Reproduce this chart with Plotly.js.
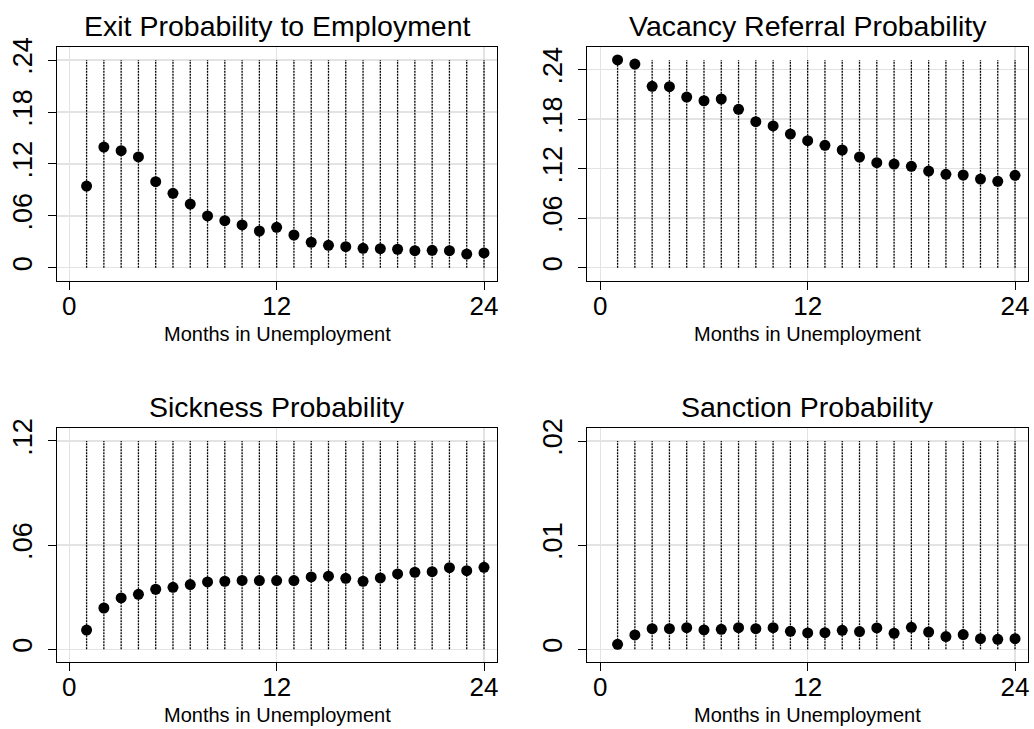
<!DOCTYPE html>
<html>
<head>
<meta charset="utf-8">
<script src="https://cdn.plot.ly/plotly-3.0.1.min.js"></script>
<style>html,body{margin:0;padding:0;background:#fff;}#chart{width:1034px;height:729px;}</style>
</head>
<body>
<div id="chart"></div>
<script>
// ---- data ----
const months = [1,2,3,4,5,6,7,8,9,10,11,12,13,14,15,16,17,18,19,20,21,22,23,24];
const exitEmployment = [0.0944,0.1395,0.1353,0.1280,0.0994,0.0860,0.0736,0.0598,0.0543,0.0494,0.0424,0.0467,0.0378,0.0294,0.0259,0.0243,0.0224,0.0220,0.0213,0.0197,0.0201,0.0197,0.0158,0.0170];
const vacancyReferral = [0.2518,0.2469,0.2199,0.2194,0.2069,0.2024,0.2045,0.1920,0.1770,0.1718,0.1620,0.1540,0.1484,0.1427,0.1342,0.1273,0.1257,0.1229,0.1172,0.1132,0.1124,0.1075,0.1047,0.1120];
const sickness = [0.0111,0.0238,0.0296,0.0317,0.0346,0.0357,0.0373,0.0388,0.0392,0.0397,0.0396,0.0396,0.0396,0.0417,0.0421,0.0409,0.0392,0.0411,0.0434,0.0444,0.0447,0.0470,0.0453,0.0472];
const sanction = [0.00048,0.00138,0.00198,0.00198,0.00208,0.00186,0.00192,0.00208,0.00198,0.00208,0.00173,0.00157,0.00160,0.00182,0.00170,0.00205,0.00154,0.00211,0.00166,0.00122,0.00141,0.00102,0.00096,0.00102];

const panelTitles = ["Exit Probability to Employment","Vacancy Referral Probability","Sickness Probability","Sanction Probability"];
const xTitle = "Months in Unemployment";
const xTickVals = [0,12,24];
const xTickText = ["0","12","24"];
const yTickVals1 = [0,0.06,0.12,0.18,0.24];
const yTickText1 = ["0",".06",".12",".18",".24"];
const yTickVals3 = [0,0.06,0.12];
const yTickText3 = ["0",".06",".12"];
const yTickVals4 = [0,0.01,0.02];
const yTickText4 = ["0",".01",".02"];

// ---- layout helpers ----
const W = 1034, H = 729;
const px = v => v / W;
const py = v => 1 - v / H;

const series = [exitEmployment, vacancyReferral, sickness, sanction];
const yTicks = [[yTickVals1,yTickText1],[yTickVals1,yTickText1],[yTickVals3,yTickText3],[yTickVals4,yTickText4]];
const xDomains = [[56.7,497.3],[587,1028],[56.7,497.3],[587,1028]];
const yDomains = [[46.7,281],[46.7,281],[428.3,662],[428.3,662]];
const yRanges = [[-0.0154,0.2555],[-0.0161,0.2679],[-0.0073,0.1273],[-0.00122,0.02122]];
const xRanges = [[-0.73,24.77],[-0.77,24.75],[-0.73,24.77],[-0.77,24.75]];

const FONT = "Liberation Sans, Arial, Helvetica, sans-serif";
const traces = [];
const layout = {
  width: W, height: H,
  margin: {l:0,r:0,t:0,b:0},
  paper_bgcolor: "#fff", plot_bgcolor: "#fff",
  showlegend: false,
  font: {family: FONT, color: "#000"},
  annotations: []
};

for (let i = 0; i < 4; i++) {
  const ax = i === 0 ? "" : String(i+1);
  const vals = series[i];
  const tv = yTicks[i][0];
  const top = Math.max(tv[tv.length-1], Math.max(...vals));
  // dotted spikes
  const lx = [], ly = [];
  months.forEach(m => { lx.push(m, m, null); ly.push(0, top, null); });
  traces.push({
    x: lx, y: ly, type: "scatter", mode: "lines",
    xaxis: "x"+ax, yaxis: "y"+ax,
    line: {color: "#000", width: 1.3, dash: "2px,1px"},
    hoverinfo: "skip"
  });
  traces.push({
    x: months, y: vals, type: "scatter", mode: "markers",
    xaxis: "x"+ax, yaxis: "y"+ax,
    marker: {color: "#000", size: 11, line: {width: 0}}
  });
  const common = {
    showline: true, linecolor: "#000", linewidth: 1, mirror: true,
    ticks: "outside", ticklen: 8, tickwidth: 1, tickcolor: "#000",
    showgrid: true, gridcolor: "#e3e3e3", gridwidth: 1.5,
    zeroline: false, tickfont: {family: FONT, size: 26, color: "#000"}
  };
  layout["xaxis"+ax] = Object.assign({}, common, {
    domain: [px(xDomains[i][0]), px(xDomains[i][1])],
    range: xRanges[i], tickmode: "array", tickvals: xTickVals, ticktext: xTickText,
    anchor: "y"+ax, ticklabelstandoff: -6
  });
  layout["yaxis"+ax] = Object.assign({}, common, {
    domain: [py(yDomains[i][1]), py(yDomains[i][0])],
    range: yRanges[i], tickmode: "array", tickvals: yTicks[i][0], ticktext: yTicks[i][1],
    tickangle: -90, anchor: "x"+ax, ticklabelstandoff: 5,
    tickfont: {family: FONT, size: 27, color: "#000"}
  });
  const cx = px((xDomains[i][0]+xDomains[i][1])/2);
  // panel title
  layout.annotations.push({
    text: panelTitles[i], showarrow: false,
    xref: "paper", yref: "paper",
    x: cx, y: py(yDomains[i][0] - 21), xanchor: "center", yanchor: "middle",
    font: {family: FONT, size: 28.5, color: "#000"}
  });
  // x axis title
  layout.annotations.push({
    text: xTitle, showarrow: false,
    xref: "paper", yref: "paper",
    x: cx, y: py(yDomains[i][1] + 53), xanchor: "center", yanchor: "middle",
    font: {family: FONT, size: 20, color: "#000"}
  });
}

Plotly.newPlot("chart", traces, layout, {displayModeBar: false, staticPlot: true});
</script>
</body>
</html>
